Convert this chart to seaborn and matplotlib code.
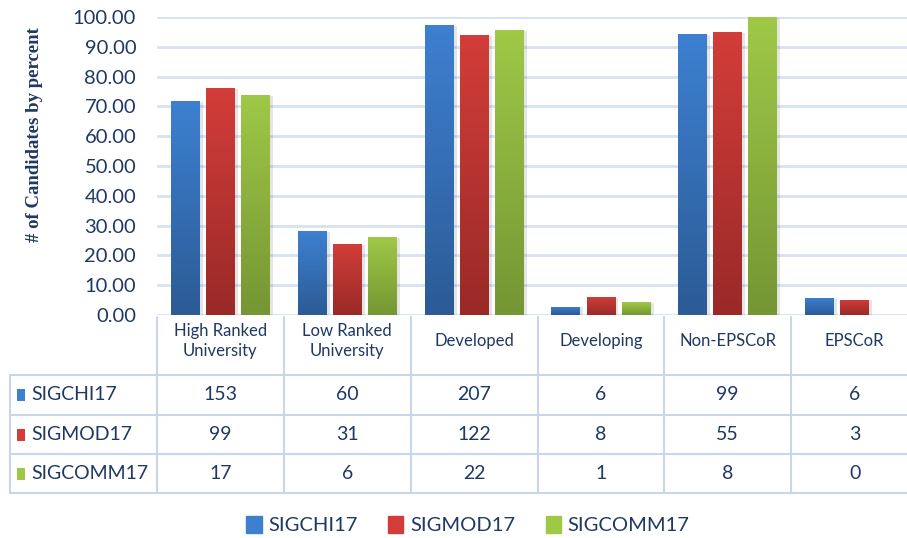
import numpy as np
import pandas as pd
import matplotlib
matplotlib.use("Agg")
import matplotlib.pyplot as plt
import seaborn as sns
from matplotlib.colors import LinearSegmentedColormap
from matplotlib.patches import Rectangle

# chart data
categories = ["High Ranked\nUniversity", "Low Ranked\nUniversity", "Developed",
              "Developing", "Non-EPSCoR", "EPSCoR"]
series = ["SIGCHI17", "SIGMOD17", "SIGCOMM17"]
pct_sigchi = [71.83, 28.17, 97.18, 2.82, 94.29, 5.71]
pct_sigmod = [76.15, 23.85, 93.85, 6.15, 94.83, 5.17]
pct_sigcomm = [73.91, 26.09, 95.65, 4.35, 100.00, 0.00]
cnt_sigchi = [153, 60, 207, 6, 99, 6]
cnt_sigmod = [99, 31, 122, 8, 55, 3]
cnt_sigcomm = [17, 6, 22, 1, 8, 0]
yticks = [0, 10, 20, 30, 40, 50, 60, 70, 80, 90, 100]

df = pd.DataFrame({
    "category": categories * 3,
    "series": [s for s in series for _ in categories],
    "pct": pct_sigchi + pct_sigmod + pct_sigcomm,
})
counts = [cnt_sigchi, cnt_sigmod, cnt_sigcomm]

# top / bottom colours of the gradient fills
grad = [("#3d80d0", "#2c5b96"), ("#d23d39", "#992a28"), ("#9fc847", "#759634")]
navy = "#1f3864"
gridc = "#d7e2f1"
linec = "#c9d6e8"

sns.set_style("white")
plt.rcParams["font.family"] = ["Lato", "DejaVu Sans"]

fig = plt.figure(figsize=(9.07, 5.38), dpi=100)
ax = fig.add_axes([157 / 907, 1 - 315 / 538, 761 / 907, 298 / 538])

sns.barplot(data=df, x="category", y="pct", hue="series", order=categories,
            hue_order=series, palette=[g[0] for g in grad], width=0.83, gap=0.18,
            legend=False, ax=ax, zorder=3)

# gradient fills + soft shadow
for cont, (top, bot) in zip(ax.containers, grad):
    cmap = LinearSegmentedColormap.from_list("g", [bot, top])
    for bar in cont:
        x, w, h = bar.get_x(), bar.get_width(), bar.get_height()
        if h <= 0:
            bar.set_visible(False)
            continue
        ax.add_patch(Rectangle((x + 0.01, 0), w + 0.015, h - 0.3, color="#000000",
                               alpha=0.1, lw=0, zorder=2))
        bar.set_facecolor("none")
        bar.set_edgecolor("none")
        im = ax.imshow(np.linspace(0, 1, 64).reshape(-1, 1), cmap=cmap, origin="lower",
                       extent=[x, x + w, 0, h], aspect="auto", zorder=3)
        im.set_clip_path(bar)

ax.set_xlim(-0.5, len(categories) - 0.5)
ax.set_ylim(0, 100)
ax.set_yticks(yticks)
ax.set_yticklabels([f"{v:.2f}" for v in yticks], fontsize=14.5, color=navy)
ax.tick_params(axis="y", length=0, pad=15)
ax.set_xticks([])
ax.set_xlabel("")
ax.set_ylabel("")
for v in yticks:
    ax.axhline(v, color=gridc, lw=2, zorder=1)
for s in ax.spines.values():
    s.set_visible(False)

fig.text(35 / 907, 1 - 135 / 538, "# of Candidates by percent", rotation=90,
         ha="center", va="center", fontsize=13.5, fontweight="bold",
         family="Liberation Serif", color=navy)

# data table under the plot, drawn in pixel coordinates
tb = fig.add_axes([0, 0, 1, 1], facecolor="none")
tb.set_xlim(0, 907)
tb.set_ylim(538, 0)
tb.axis("off")

col_w = 761 / len(categories)
col_edges = [157 + i * col_w for i in range(len(categories) + 1)]
row_lines = [375, 415, 454, 493]
for xe in col_edges:
    tb.plot([xe, xe], [317, 493], color=linec, lw=1.5)
tb.plot([10, 10], [375, 493], color=linec, lw=1.5)
for yl in row_lines:
    tb.plot([10, 918], [yl, yl], color=linec, lw=1.5)

for i, cat in enumerate(categories):
    tb.text(col_edges[i] + col_w / 2, 341, cat, ha="center", va="center",
            fontsize=12, color=navy, linespacing=1.35)

for r, (name, vals, (top, bot)) in enumerate(zip(series, counts, grad)):
    yc = (row_lines[r] + row_lines[r + 1]) / 2
    tb.add_patch(Rectangle((17, yc - 6), 8, 12, color=top, lw=0))
    tb.text(31, yc, name, ha="left", va="center", fontsize=14, color=navy)
    for i, v in enumerate(vals):
        tb.text(col_edges[i] + col_w / 2, yc, str(v), ha="center", va="center",
                fontsize=14, color=navy)

# legend
handles = [Rectangle((0, 0), 1, 1, color=g[0]) for g in grad]
fig.legend(handles, series, loc="center", bbox_to_anchor=(468 / 907, 1 - 525 / 538),
           ncol=3, frameon=False, fontsize=14.5, handlelength=0.75, handleheight=0.9,
           handletextpad=0.35, columnspacing=1.5, labelcolor=navy)

fig.savefig("out.png", dpi=100)
